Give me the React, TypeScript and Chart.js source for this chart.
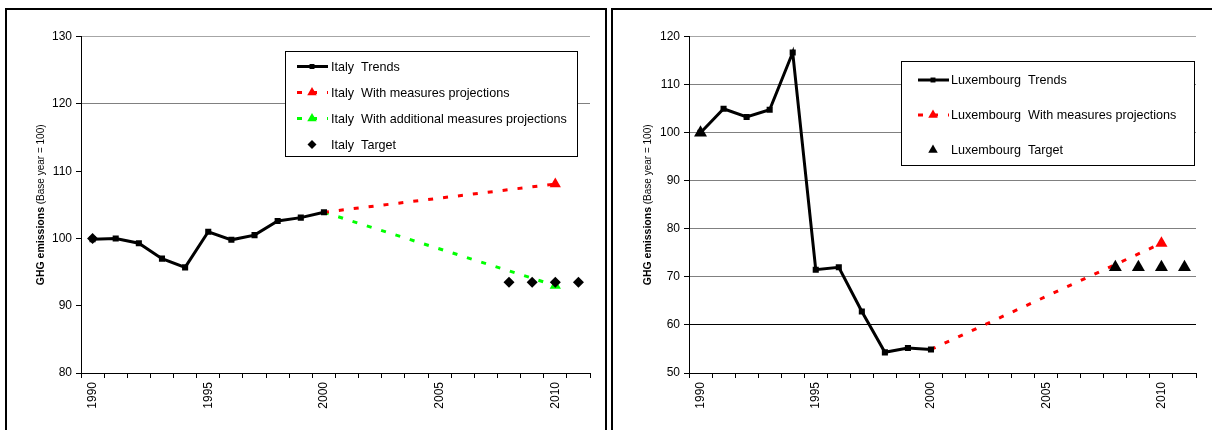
import React, { useRef, useEffect } from 'react';
import { Chart, registerables } from 'chart.js';

Chart.register(...registerables);

// Años del eje X (categorías)
const years = [
  '1990', '1991', '1992', '1993', '1994', '1995', '1996', '1997', '1998', '1999', '2000',
  '2001', '2002', '2003', '2004', '2005', '2006', '2007', '2008', '2009', '2010', '2011',
];

// Italia
const italyTrends = [99.9, 100.0, 99.3, 97.0, 95.7, 101.0, 99.8, 100.5, 102.6, 103.1, 103.9,
  null, null, null, null, null, null, null, null, null, null, null];
const italyWithMeasures = [null, null, null, null, null, null, null, null, null, null, 103.9,
  null, null, null, null, null, null, null, null, null, 108.1, null];
const italyAdditional = [null, null, null, null, null, null, null, null, null, null, 103.9,
  null, null, null, null, null, null, null, null, null, 93.0, null];
const italyTarget = [100.0, null, null, null, null, null, null, null, null, null, null,
  null, null, null, null, null, null, null, 93.5, 93.5, 93.5, 93.5];

// Luxemburgo
const luxTrends = [100.0, 105.0, 103.3, 104.8, 116.7, 71.5, 72.0, 62.8, 54.3, 55.2, 54.9,
  null, null, null, null, null, null, null, null, null, null, null];
const luxWithMeasures = [null, null, null, null, null, null, null, null, null, null, 54.9,
  null, null, null, null, null, null, null, null, null, 77.0, null];
const luxTarget = [100.0, null, null, null, null, null, null, null, null, null, null,
  null, null, null, null, null, null, null, 72.0, 72.0, 72.0, 72.0];

// Ticks del eje Y
const italyYTicks = { min: 80, max: 130, step: 10 };
const luxYTicks = { min: 50, max: 120, step: 10 };

const FONT = "'Liberation Sans', Arial, Helvetica, sans-serif";

type LegendItem = {
  label: string;
  color: string;
  dash: number[] | null; // null = sin línea
  marker: 'rect' | 'rectRot' | 'triangle';
  radius: number;
};

type LegendBox = {
  x: number; y: number; w: number; h: number;
  rows: number[]; sampleX: number; textX: number;
  items: LegendItem[];
};

function drawMarker(ctx: CanvasRenderingContext2D, style: string, x: number, y: number, r: number, color: string) {
  ctx.fillStyle = color;
  ctx.beginPath();
  if (style === 'rect') {
    const s = r * Math.SQRT1_2;
    ctx.rect(x - s, y - s, 2 * s, 2 * s);
  } else if (style === 'rectRot') {
    ctx.moveTo(x, y - r);
    ctx.lineTo(x + r, y);
    ctx.lineTo(x, y + r);
    ctx.lineTo(x - r, y);
  } else {
    ctx.moveTo(x, y - r);
    ctx.lineTo(x + r * 0.866, y + r / 2);
    ctx.lineTo(x - r * 0.866, y + r / 2);
  }
  ctx.closePath();
  ctx.fill();
}

interface EmissionsChartProps {
  datasets: any[];
  yTicks: { min: number; max: number; step: number };
  yAxisWidth: number;
  titleX: number;
  gridColor: (v: number) => string;
  legend: LegendBox;
}

const EmissionsChart: React.FC<EmissionsChartProps> = ({ datasets, yTicks, yAxisWidth, titleX, gridColor, legend }) => {
  const chartRef = useRef<HTMLCanvasElement | null>(null);

  useEffect(() => {
    if (!chartRef.current) return;

    // Título del eje Y con dos fuentes
    const yTitle = {
      id: 'yTitle',
      afterDraw(chart: Chart) {
        const ctx = chart.ctx;
        const cy = (chart.chartArea.top + chart.chartArea.bottom) / 2;
        const boldFont = `bold 10.5px ${FONT}`;
        const normFont = `10px ${FONT}`;
        const a = 'GHG emissions';
        const b = ' (Base year = 100)';
        ctx.save();
        ctx.font = boldFont;
        const wa = ctx.measureText(a).width;
        ctx.font = normFont;
        const wb = ctx.measureText(b).width;
        ctx.translate(titleX, cy);
        ctx.rotate(-Math.PI / 2);
        ctx.fillStyle = '#000';
        ctx.textBaseline = 'middle';
        ctx.textAlign = 'left';
        ctx.font = boldFont;
        ctx.fillText(a, -(wa + wb) / 2, 0);
        ctx.font = normFont;
        ctx.fillText(b, -(wa + wb) / 2 + wa, 0);
        ctx.restore();
      },
    };

    // Leyenda dentro del área del gráfico
    const boxLegend = {
      id: 'boxLegend',
      afterDraw(chart: Chart) {
        const ctx = chart.ctx;
        ctx.save();
        ctx.fillStyle = '#fff';
        ctx.fillRect(legend.x, legend.y, legend.w, legend.h);
        ctx.strokeStyle = '#000';
        ctx.lineWidth = 1;
        ctx.strokeRect(legend.x, legend.y, legend.w, legend.h);
        legend.items.forEach((it, i) => {
          const y = legend.y + legend.rows[i];
          if (it.dash) {
            ctx.beginPath();
            ctx.setLineDash(it.dash);
            ctx.strokeStyle = it.color;
            ctx.lineWidth = 3;
            ctx.moveTo(legend.sampleX - 15, y);
            ctx.lineTo(legend.sampleX + 16, y);
            ctx.stroke();
            ctx.setLineDash([]);
          }
          drawMarker(ctx, it.marker, legend.sampleX, y, it.radius, it.color);
          ctx.fillStyle = '#000';
          ctx.font = `12.6px ${FONT}`;
          ctx.textBaseline = 'middle';
          ctx.fillText(it.label, legend.textX, y + 1);
        });
        ctx.restore();
      },
    };

    const chart = new Chart(chartRef.current, {
      type: 'line',
      data: { labels: years, datasets },
      options: {
        animation: false,
        responsive: false,
        events: [],
        layout: { padding: { left: 0, top: 26.7, right: 15, bottom: 0 } },
        plugins: { legend: { display: false }, tooltip: { enabled: false } },
        scales: {
          x: {
            type: 'category',
            offset: true,
            ticks: {
              autoSkip: false,
              minRotation: 90,
              maxRotation: 90,
              color: '#000',
              padding: 4,
              font: { family: FONT, size: 12 },
              callback: (_v: any, i: number) => (Number(years[i]) % 5 === 0 ? years[i] : ''),
            },
            grid: { offset: true, drawOnChartArea: false, tickLength: 5, tickColor: '#000' },
            border: { color: '#000', width: 1 },
            afterFit: (s: any) => { s.height = 57; },
          },
          y: {
            min: yTicks.min,
            max: yTicks.max,
            ticks: {
              stepSize: yTicks.step,
              color: '#000',
              padding: 4,
              font: { family: FONT, size: 12 },
            },
            grid: {
              color: (c: any) => gridColor(c.tick.value),
              tickColor: '#000',
              tickLength: 5,
              lineWidth: 1,
            },
            border: { color: '#000', width: 1 },
            afterFit: (s: any) => { s.width = yAxisWidth; },
          },
        },
      } as any,
      plugins: [yTitle, boxLegend],
    });

    return () => {
      chart.destroy();
    };
  }, [datasets, yTicks, yAxisWidth, titleX, gridColor, legend]);

  return (
    <canvas
      ref={chartRef}
      width={598}
      height={420}
      style={{ position: 'absolute', left: 0, top: 0, width: 598, height: 420 }}
    />
  );
};

const projRadius = (r: number) => (c: any) => (c.dataIndex === 20 ? r : 0);

const italyDatasets = [
  {
    label: 'Italy  Trends', data: italyTrends, borderColor: '#000', backgroundColor: '#000',
    borderWidth: 3, pointStyle: 'rect', pointRadius: 4.3, pointBorderWidth: 0, order: 1,
  },
  {
    label: 'Italy  With measures projections', data: italyWithMeasures, borderColor: '#ff0000',
    backgroundColor: '#ff0000', borderWidth: 3, borderDash: [5, 10], spanGaps: true,
    pointStyle: 'triangle', pointRadius: projRadius(6.5), pointBorderWidth: 0, order: 2,
  },
  {
    label: 'Italy  With additional measures projections', data: italyAdditional, borderColor: '#00ff00',
    backgroundColor: '#00ff00', borderWidth: 3, borderDash: [5, 10], spanGaps: true,
    pointStyle: 'triangle', pointRadius: projRadius(6.5), pointBorderWidth: 0, order: 3,
  },
  {
    label: 'Italy  Target', data: italyTarget, borderColor: '#000', backgroundColor: '#000',
    showLine: false, pointStyle: 'rectRot', pointRadius: 5.5, pointBorderWidth: 0, order: 0,
  },
];

const luxDatasets = [
  {
    label: 'Luxembourg  Trends', data: luxTrends, borderColor: '#000', backgroundColor: '#000',
    borderWidth: 3, pointStyle: 'rect', pointRadius: 4.3, pointBorderWidth: 0, order: 1,
  },
  {
    label: 'Luxembourg  With measures projections', data: luxWithMeasures, borderColor: '#ff0000',
    backgroundColor: '#ff0000', borderWidth: 3, borderDash: [5, 10], spanGaps: true,
    pointStyle: 'triangle', pointRadius: projRadius(7), pointBorderWidth: 0, order: 2,
  },
  {
    label: 'Luxembourg  Target', data: luxTarget, borderColor: '#000', backgroundColor: '#000',
    showLine: false, pointStyle: 'triangle', pointRadius: 7.5, pointBorderWidth: 0, order: 0,
  },
];

const italyLegend: LegendBox = {
  x: 278.5, y: 41.5, w: 292, h: 105,
  rows: [15, 41, 67, 93], sampleX: 305, textX: 324,
  items: [
    { label: 'Italy  Trends', color: '#000', dash: [], marker: 'rect', radius: 3.5 },
    { label: 'Italy  With measures projections', color: '#ff0000', dash: [5, 10], marker: 'triangle', radius: 5.5 },
    { label: 'Italy  With additional measures projections', color: '#00ff00', dash: [5, 10], marker: 'triangle', radius: 5.5 },
    { label: 'Italy  Target', color: '#000', dash: null, marker: 'rectRot', radius: 4.5 },
  ],
};

const luxLegend: LegendBox = {
  x: 288.5, y: 51.5, w: 293, h: 104,
  rows: [18.5, 53.5, 88.5], sampleX: 320, textX: 338,
  items: [
    { label: 'Luxembourg  Trends', color: '#000', dash: [], marker: 'rect', radius: 3.5 },
    { label: 'Luxembourg  With measures projections', color: '#ff0000', dash: [5, 10], marker: 'triangle', radius: 5.5 },
    { label: 'Luxembourg  Target', color: '#000', dash: null, marker: 'triangle', radius: 5.5 },
  ],
};

const italyGrid = (v: number) => (v === 120 ? '#808080' : v === 130 ? '#a6a6a6' : 'rgba(0,0,0,0)');
const luxGrid = (v: number) => (v === 60 ? '#000' : v === 50 ? 'rgba(0,0,0,0)' : v === 120 ? '#a6a6a6' : '#808080');

const panelStyle = (left: number, width: number): React.CSSProperties => ({
  position: 'absolute',
  left,
  top: 8,
  width,
  height: 440,
  border: '2px solid #000',
  boxSizing: 'border-box',
  background: '#fff',
});

const App: React.FC = () => (
  <div style={{ position: 'fixed', left: 0, top: 0, width: 1212, height: 430, background: '#fff', overflow: 'hidden' }}>
    <div style={panelStyle(5, 602)}>
      <EmissionsChart
        datasets={italyDatasets}
        yTicks={italyYTicks}
        yAxisWidth={74}
        titleX={34}
        gridColor={italyGrid}
        legend={italyLegend}
      />
    </div>
    <div style={panelStyle(611, 604)}>
      <EmissionsChart
        datasets={luxDatasets}
        yTicks={luxYTicks}
        yAxisWidth={76}
        titleX={35.5}
        gridColor={luxGrid}
        legend={luxLegend}
      />
    </div>
  </div>
);

export default App;
